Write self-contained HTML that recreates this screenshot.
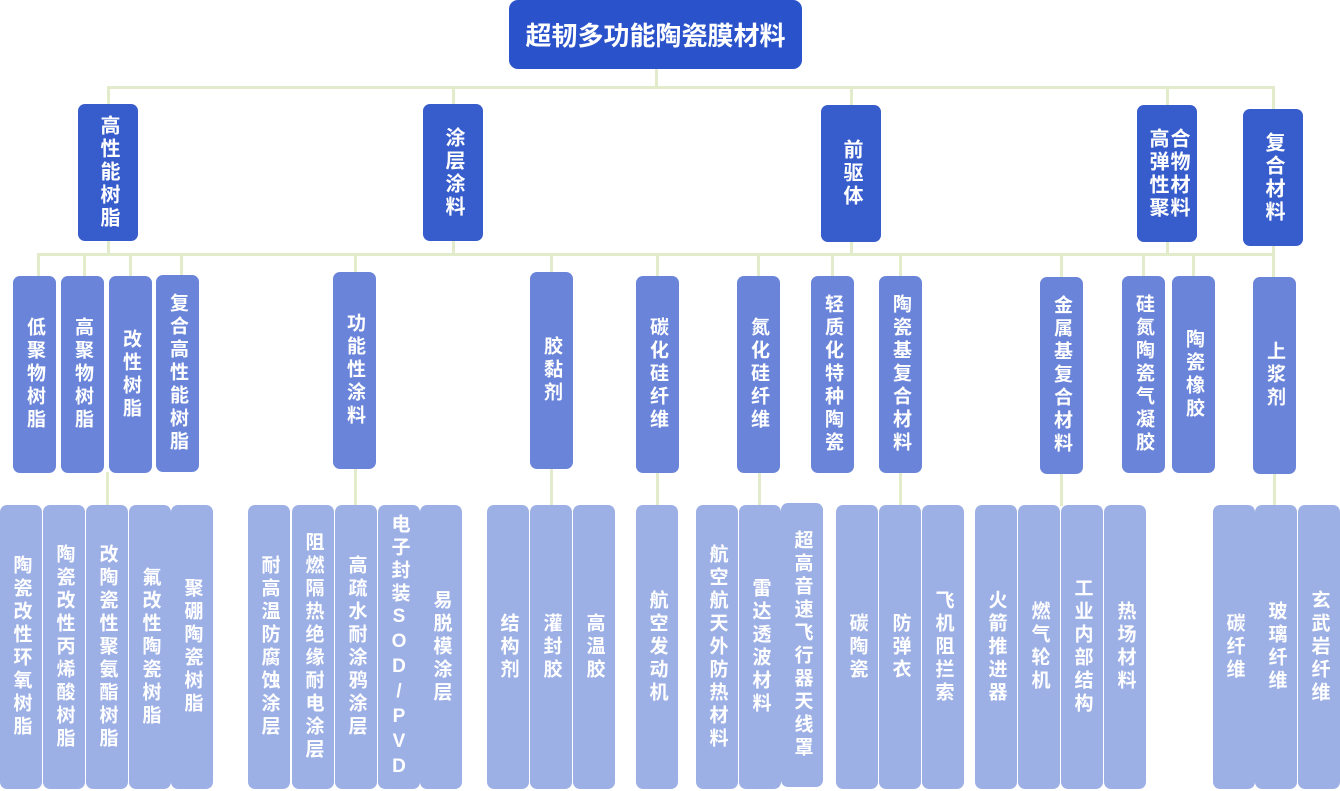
<!DOCTYPE html>
<html><head><meta charset="utf-8"><style>
body{margin:0;width:1340px;height:791px;background:#fff;position:relative;overflow:hidden;font-family:"Liberation Sans","Noto Sans CJK SC",sans-serif}
.b{position:absolute;display:flex;align-items:center;justify-content:center;color:#fff;font-weight:bold;border-radius:7px;box-sizing:border-box}
.b span{writing-mode:vertical-rl;text-orientation:upright;letter-spacing:4px;line-height:1}
.l1{background:#375CCB;top:104px;height:137px;width:60px;font-size:20px}
.l1 span{letter-spacing:3px}
.l2{background:#6A84D9;top:276px;height:197px;width:43px;font-size:19px}
.l3{background:#9DB0E6;top:505px;height:284px;width:42px;font-size:19px}
.h{position:absolute;height:3px;background:#E2ECCA}
.v{position:absolute;width:3px;background:#E2ECCA}
</style></head><body>
<div class="v" style="left:655px;top:69px;height:20px"></div>
<div class="h" style="left:107px;top:86px;width:1168px"></div>
<div class="v" style="left:107px;top:86px;height:20px"></div>
<div class="v" style="left:452px;top:86px;height:20px"></div>
<div class="v" style="left:850px;top:86px;height:20px"></div>
<div class="v" style="left:1166px;top:86px;height:20px"></div>
<div class="v" style="left:1272px;top:86px;height:24px"></div>
<div class="h" style="left:37px;top:253px;width:1238px"></div>
<div class="v" style="left:107px;top:240px;height:15px"></div>
<div class="v" style="left:452px;top:240px;height:15px"></div>
<div class="v" style="left:850px;top:240px;height:15px"></div>
<div class="v" style="left:1166px;top:240px;height:15px"></div>
<div class="v" style="left:1272px;top:245px;height:32px"></div>
<div class="v" style="left:37px;top:253px;height:24px"></div>
<div class="v" style="left:83px;top:253px;height:24px"></div>
<div class="v" style="left:129px;top:253px;height:24px"></div>
<div class="v" style="left:180px;top:253px;height:24px"></div>
<div class="v" style="left:354px;top:253px;height:20px"></div>
<div class="v" style="left:550px;top:253px;height:20px"></div>
<div class="v" style="left:656px;top:253px;height:24px"></div>
<div class="v" style="left:757px;top:253px;height:24px"></div>
<div class="v" style="left:831px;top:253px;height:24px"></div>
<div class="v" style="left:899px;top:253px;height:24px"></div>
<div class="v" style="left:1060px;top:253px;height:24px"></div>
<div class="v" style="left:1142px;top:253px;height:24px"></div>
<div class="v" style="left:1192px;top:253px;height:24px"></div>
<div class="v" style="left:106px;top:472px;height:34px"></div>
<div class="v" style="left:354px;top:468px;height:38px"></div>
<div class="v" style="left:550px;top:468px;height:38px"></div>
<div class="v" style="left:656px;top:472px;height:34px"></div>
<div class="v" style="left:758px;top:472px;height:34px"></div>
<div class="v" style="left:899px;top:472px;height:34px"></div>
<div class="v" style="left:1060px;top:472px;height:34px"></div>
<div class="v" style="left:1273px;top:473px;height:33px"></div>

<div class="b" style="left:509px;top:0;width:293px;height:69px;background:#2A52CB;font-size:26px;border-radius:9px">超韧多功能陶瓷膜材料</div>

<div class="b l1" style="left:78px"><span>高性能树脂</span></div>
<div class="b l1" style="left:423px"><span>涂层涂料</span></div>
<div class="b l1" style="left:821px;top:105px"><span>前驱体</span></div>
<div class="b l1" style="left:1137px;top:105px"><span style="writing-mode:vertical-lr;letter-spacing:3px;line-height:1.05">高弹性聚<br>合物材料</span></div>
<div class="b l1" style="left:1243px;top:109px"><span>复合材料</span></div>

<div class="b l2" style="left:13px"><span>低聚物树脂</span></div>
<div class="b l2" style="left:61px"><span>高聚物树脂</span></div>
<div class="b l2" style="left:109px"><span>改性树脂</span></div>
<div class="b l2" style="left:156px;top:275px"><span>复合高性能树脂</span></div>
<div class="b l2" style="left:333px;top:272px"><span>功能性涂料</span></div>
<div class="b l2" style="left:530px;top:272px"><span>胶黏剂</span></div>
<div class="b l2" style="left:636px"><span>碳化硅纤维</span></div>
<div class="b l2" style="left:737px"><span>氮化硅纤维</span></div>
<div class="b l2" style="left:811px"><span>轻质化特种陶瓷</span></div>
<div class="b l2" style="left:879px"><span>陶瓷基复合材料</span></div>
<div class="b l2" style="left:1040px;top:277px"><span>金属基复合材料</span></div>
<div class="b l2" style="left:1122px"><span>硅氮陶瓷气凝胶</span></div>
<div class="b l2" style="left:1172px"><span>陶瓷橡胶</span></div>
<div class="b l2" style="left:1253px;top:277px"><span>上浆剂</span></div>

<div class="b l3" style="left:0px"><span>陶瓷改性环氧树脂</span></div>
<div class="b l3" style="left:43px"><span>陶瓷改性丙烯酸树脂</span></div>
<div class="b l3" style="left:86px"><span>改陶瓷性聚氨酯树脂</span></div>
<div class="b l3" style="left:129px"><span>氟改性陶瓷树脂</span></div>
<div class="b l3" style="left:171px"><span>聚硼陶瓷树脂</span></div>

<div class="b l3" style="left:248px"><span>耐高温防腐蚀涂层</span></div>
<div class="b l3" style="left:292px"><span>阻燃隔热绝缘耐电涂层</span></div>
<div class="b l3" style="left:335px"><span>高疏水耐涂鸦涂层</span></div>
<div class="b l3" style="left:378px"><span>电子封装SOD/PVD</span></div>
<div class="b l3" style="left:420px"><span>易脱模涂层</span></div>

<div class="b l3" style="left:487px"><span>结构剂</span></div>
<div class="b l3" style="left:530px"><span>灌封胶</span></div>
<div class="b l3" style="left:573px"><span>高温胶</span></div>

<div class="b l3" style="left:636px"><span>航空发动机</span></div>

<div class="b l3" style="left:696px"><span>航空航天外防热材料</span></div>
<div class="b l3" style="left:739px"><span>雷达透波材料</span></div>
<div class="b l3" style="left:781px;top:503px"><span>超高音速飞行器天线罩</span></div>

<div class="b l3" style="left:836px"><span>碳陶瓷</span></div>
<div class="b l3" style="left:879px"><span>防弹衣</span></div>
<div class="b l3" style="left:922px"><span>飞机阻拦索</span></div>

<div class="b l3" style="left:975px"><span>火箭推进器</span></div>
<div class="b l3" style="left:1018px"><span>燃气轮机</span></div>
<div class="b l3" style="left:1061px"><span>工业内部结构</span></div>
<div class="b l3" style="left:1104px"><span>热场材料</span></div>

<div class="b l3" style="left:1213px"><span>碳纤维</span></div>
<div class="b l3" style="left:1255px"><span>玻璃纤维</span></div>
<div class="b l3" style="left:1298px"><span>玄武岩纤维</span></div>
</body></html>
